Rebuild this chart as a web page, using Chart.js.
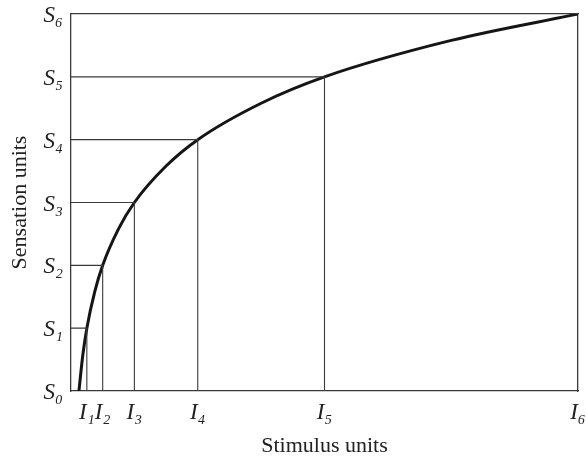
<!DOCTYPE html>
<html>
<head>
<meta charset="utf-8">
<script src="https://cdn.jsdelivr.net/npm/chart.js@4/dist/chart.umd.min.js"></script>
<style>
  html, body { margin: 0; padding: 0; background: #fff; }
  canvas { display: block; }
</style>
</head>
<body>
<canvas id="c" width="586" height="462"></canvas>
<script>
// Sensation levels S0..S6 and the stimulus intensities I0..I6 that produce them
const sensationLevels = [0, 1, 2, 3, 4, 5, 6];
const stimulusLevels  = [1, 2, 4, 8, 16, 32, 64];
const sTickLabels = ['S\u2080', 'S\u2081', 'S\u2082', 'S\u2083', 'S\u2084', 'S\u2085', 'S\u2086'];
const iTickLabels = ['I\u2081', 'I\u2082', 'I\u2083', 'I\u2084', 'I\u2085', 'I\u2086'];
// Points
const curveX = [1, 1.5, 2, 3, 4, 6, 8, 12, 16, 24, 32, 48, 64];
const curveY = [0, 0.58, 1, 1.58, 2, 2.58, 3, 3.58, 4, 4.58, 5, 5.58, 6];

const serif = "'Liberation Serif', 'DejaVu Serif', serif";
const lineColor = '#3a3a3a';

const datasets = [];
for (let k = 1; k <= 5; k++) {
  datasets.push({
    data: [
      { x: 0, y: sensationLevels[k] },
      { x: stimulusLevels[k], y: sensationLevels[k] },
      { x: stimulusLevels[k], y: 0 }
    ],
    borderColor: lineColor,
    borderWidth: 1.1,
    pointRadius: 0,
    tension: 0,
    fill: false
  });
}
datasets.push({
  data: curveX.map((x, i) => ({ x: x, y: curveY[i] })),
  borderColor: '#151515',
  borderWidth: 3,
  pointRadius: 0,
  cubicInterpolationMode: 'monotone',
  fill: false
});

const xTickValues = stimulusLevels.slice(1);

new Chart(document.getElementById('c'), {
  type: 'line',
  data: { datasets: datasets },
  options: {
    responsive: false,
    animation: false,
    layout: { padding: { top: 14, right: 8, bottom: 0, left: 0 } },
    plugins: { legend: { display: false }, tooltip: { enabled: false } },
    scales: {
      x: {
        type: 'linear', position: 'bottom', min: 0, max: 64,
        afterBuildTicks: s => { s.ticks = xTickValues.map(v => ({ value: v })); },
        afterFit: s => { s.height = 71; s.paddingLeft = 0; s.paddingRight = 0; },
        ticks: {
          autoSkip: false, maxRotation: 0, padding: 8, color: '#222',
          font: { family: serif, size: 23, style: 'italic' },
          callback: (v, i) => iTickLabels[i]
        },
        grid: { display: false, drawTicks: false },
        border: { display: true, color: lineColor, width: 1.3 },
        title: {
          display: true, text: 'Stimulus units', color: '#222',
          font: { family: serif, size: 22 },
          padding: { top: 0, bottom: 3 }
        }
      },
      y: {
        type: 'linear', position: 'left', min: 0, max: 6,
        ticks: {
          stepSize: 1, padding: 8, labelOffset: 2, color: '#222',
          font: { family: serif, size: 23, style: 'italic' },
          callback: v => sTickLabels[v]
        },
        afterFit: s => { s.width = 71; s.paddingTop = 0; s.paddingBottom = 0; },
        grid: { display: false, drawTicks: false },
        border: { display: true, color: lineColor, width: 1.3 },
        title: {
          display: true, text: 'Sensation units', color: '#222',
          font: { family: serif, size: 22 },
          padding: { top: 7, bottom: 0 }
        }
      },
      xTop: {
        type: 'linear', position: 'top', min: 0, max: 64,
        ticks: { display: false },
        grid: { display: false, drawTicks: false },
        border: { display: true, color: lineColor, width: 1.3 }
      },
      yRight: {
        type: 'linear', position: 'right', min: 0, max: 6,
        ticks: { display: false },
        grid: { display: false, drawTicks: false },
        border: { display: true, color: lineColor, width: 1.3 }
      }
    }
  }
});
</script>
</body>
</html>
